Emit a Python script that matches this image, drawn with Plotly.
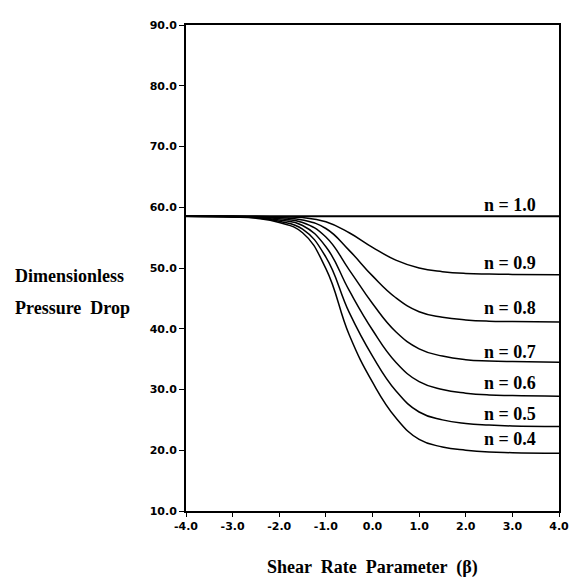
import plotly.graph_objects as go

beta = [-4.0, -3.0, -2.5, -2.0, -1.5, -1.0, -0.5, 0.0, 0.5, 1.0, 1.5, 2.0, 2.5, 3.0, 4.0]

n_labels = ["n = 1.0", "n = 0.9", "n = 0.8", "n = 0.7", "n = 0.6", "n = 0.5", "n = 0.4"]

dp_n10 = [58.5, 58.5, 58.5, 58.5, 58.5, 58.5, 58.5, 58.5, 58.5, 58.5, 58.5, 58.5, 58.5, 58.5, 58.5]
dp_n09 = [58.5, 58.5, 58.5, 58.4, 58.3, 57.6, 55.8, 53.4, 51.3, 50.0, 49.4, 49.1, 49.0, 48.95, 48.9]
dp_n08 = [58.5, 58.5, 58.4, 58.3, 57.9, 56.5, 52.9, 48.7, 45.1, 42.8, 41.9, 41.45, 41.25, 41.2, 41.1]
dp_n07 = [58.5, 58.5, 58.4, 58.1, 57.5, 55.1, 49.7, 44.15, 39.5, 36.7, 35.5, 34.9, 34.7, 34.6, 34.5]
dp_n06 = [58.5, 58.45, 58.35, 57.9, 57.0, 53.5, 46.3, 39.8, 34.5, 31.3, 30.0, 29.4, 29.1, 29.0, 28.9]
dp_n05 = [58.5, 58.4, 58.3, 57.7, 56.4, 51.8, 42.7, 35.5, 29.8, 26.3, 25.0, 24.4, 24.15, 24.0, 23.9]
dp_n04 = [58.5, 58.4, 58.2, 57.5, 55.8, 49.9, 39.0, 31.2, 25.35, 21.8, 20.55, 20.0, 19.7, 19.6, 19.5]

label_y = [60.4, 50.9, 43.4, 36.25, 31.0, 26.0, 21.9]
label_x = 3.56

x_ticks = [-4.0, -3.0, -2.0, -1.0, 0.0, 1.0, 2.0, 3.0, 4.0]
y_ticks = [10.0, 20.0, 30.0, 40.0, 50.0, 60.0, 70.0, 80.0, 90.0]

series = [dp_n10, dp_n09, dp_n08, dp_n07, dp_n06, dp_n05, dp_n04]
widths = [2.0, 1.5, 1.5, 1.5, 1.5, 1.5, 1.5]

fig = go.Figure()
for name, ys, w in zip(n_labels, series, widths):
    fig.add_trace(go.Scatter(
        x=beta, y=ys, mode="lines", name=name,
        line=dict(color="black", width=w, shape="spline", smoothing=1.3),
        showlegend=False, hoverinfo="skip",
    ))

serif = "Liberation Serif"
for txt, yv in zip(n_labels, label_y):
    fig.add_annotation(x=label_x, y=yv, xref="x", yref="y", text=txt,
                       showarrow=False, xanchor="right", yanchor="middle",
                       font=dict(family=serif, size=18, color="black", weight="bold"))

# plot area: 380 px wide, 492 px tall; page body adds 8 px offset
PW, PH = 380.0, 492.0
fig.add_annotation(x=-176/PW, y=1 - (273 - 19) / PH, xref="paper", yref="paper",
                   text="Dimensionless", showarrow=False, xanchor="left", yanchor="middle",
                   font=dict(family=serif, size=18, color="black", weight="bold"))
fig.add_annotation(x=-176/PW, y=1 - (305 - 19) / PH, xref="paper", yref="paper",
                   text="Pressure  Drop", showarrow=False, xanchor="left", yanchor="middle",
                   font=dict(family=serif, size=18, color="black", weight="bold"))
fig.add_annotation(x=0.5, y=-(568 - 511) / PH, xref="paper", yref="paper",
                   text="Shear  Rate  Parameter  (β)", showarrow=False,
                   xanchor="center", yanchor="middle",
                   font=dict(family=serif, size=18, color="black", weight="bold"))

tickfont = dict(family="DejaVu Sans", size=11, color="black", weight="bold")

fig.update_xaxes(
    range=[-4, 4], tickvals=x_ticks, ticktext=[f"{v:.1f}" for v in x_ticks],
    showline=True, linecolor="black", linewidth=2, mirror=True,
    ticks="outside", ticklen=4, tickwidth=1, tickcolor="black",
    showgrid=False, zeroline=False, tickfont=tickfont,
)
fig.update_yaxes(
    range=[10, 90], tickvals=y_ticks, ticktext=[f"{v:.1f}" for v in y_ticks],
    showline=True, linecolor="black", linewidth=2, mirror=True,
    ticks="outside", ticklen=5, tickwidth=1, tickcolor="black",
    showgrid=False, zeroline=False, tickfont=tickfont,
)

fig.update_layout(
    width=572, height=572,
    margin=dict(l=178, r=14, t=11, b=69),
    paper_bgcolor="white", plot_bgcolor="white",
)

fig.write_html("out.html")
